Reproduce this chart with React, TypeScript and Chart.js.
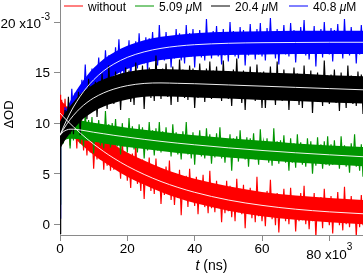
import { useEffect, useRef } from "react";
import { Chart, registerables } from "chart.js";

Chart.register(...registerables);

// Sampling times of the transient traces, in units of 10^3 ns
const traceTimes = [
  0, 0.2,
  0.5, 1, 1.5, 2, 2.5, 3, 3.5, 4, 4.5, 5,
  5.5, 6, 6.5, 7, 7.5, 8, 8.5, 9, 9.5, 10,
  10.5, 11, 11.5, 12, 12.5, 13, 13.5, 14, 14.5, 15,
  15.5, 16, 16.5, 17, 17.5, 18, 18.5, 19, 19.5, 20,
  20.5, 21, 21.5, 22, 22.5, 23, 23.5, 24, 24.5, 25,
  25.5, 26, 26.5, 27, 27.5, 28, 28.5, 29, 29.5, 30,
  30.5, 31, 31.5, 32, 32.5, 33, 33.5, 34, 34.5, 35,
  35.5, 36, 36.5, 37, 37.5, 38, 38.5, 39, 39.5, 40,
  40.5, 41, 41.5, 42, 42.5, 43, 43.5, 44, 44.5, 45,
  45.5, 46, 46.5, 47, 47.5, 48, 48.5, 49, 49.5, 50,
  50.5, 51, 51.5, 52, 52.5, 53, 53.5, 54, 54.5, 55,
  55.5, 56, 56.5, 57, 57.5, 58, 58.5, 59, 59.5, 60,
  60.5, 61, 61.5, 62, 62.5, 63, 63.5, 64, 64.5, 65,
  65.5, 66, 66.5, 67, 67.5, 68, 68.5, 69, 69.5, 70,
  70.5, 71, 71.5, 72, 72.5, 73, 73.5, 74, 74.5, 75,
  75.5, 76, 76.5, 77, 77.5, 78, 78.5, 79, 79.5, 80,
  80.5, 81, 81.5, 82, 82.5, 83, 83.5, 84, 84.5, 85,
  85.5, 86, 86.5, 87, 87.5, 88, 88.5, 89, 89.5, 90,
];

// Times of the fitted curves and of the dense noise envelopes (10^3 ns)
const fitTimes = [0, 1, 2, 3, 4, 6, 8, 10, 13, 16, 20, 25, 30, 35, 40, 50, 60, 70, 80, 90];

const legendLabels = ["without", "5.09 μM", "20.4 μM", "40.8 μM"];
const seriesColors = ["#ff0000", "#009600", "#000000", "#0000ff"];

// ΔOD traces (x10^-3)
const withoutTrace = [
  12.8, 10.5,
  12.3, 9.7, 12.4, 9.0, 11.0, 7.8, 11.5, 8.4, 10.6, 7.5,
  11.5, 8.2, 10.2, 7.3, 9.6, 6.8, 10.1, 7.1, 9.5, 5.5,
  8.7, 6.4, 9.6, 6.4, 8.5, 5.4, 8.6, 5.8, 9.1, 5.3,
  8.0, 5.4, 8.2, 5.5, 7.2, 4.5, 8.3, 5.2, 7.1, 4.3,
  6.3, 3.6, 7.0, 4.4, 8.0, 4.0, 6.0, 3.3, 6.4, 2.5,
  6.0, 4.1, 6.6, 3.3, 5.6, 3.0, 6.5, 3.5, 5.6, 2.0,
  4.9, 2.9, 5.7, 3.0, 6.3, 2.4, 4.9, 1.9, 4.6, 2.6,
  5.4, 0.9, 4.7, 2.7, 4.8, 1.7, 5.5, 2.3, 4.2, 1.8,
  4.7, 1.0, 4.3, 2.1, 4.9, 1.7, 3.6, 1.1, 5.3, 1.6,
  3.8, 1.2, 4.3, 1.8, 3.8, 0.2, 3.5, 1.1, 4.3, 1.3,
  3.8, 0.7, 3.2, 0.3, 4.5, 1.2, 3.5, 1.0, 3.9, -0.4,
  3.2, 1.2, 3.6, 0.6, 3.0, 0.2, 4.7, 0.8, 3.1, 0.3,
  2.5, -0.2, 3.3, 0.8, 4.4, 0.5, 2.6, -0.1, 3.1, -0.8,
  2.7, 1.0, 3.5, 0.3, 2.6, 0.0, 3.6, 0.6, 2.8, -0.7,
  2.2, 0.3, 3.1, 0.4, 3.8, 0.0, 2.5, -0.5, 2.2, 0.3,
  3.1, -1.3, 2.5, 0.5, 2.7, -0.4, 3.5, 0.3, 2.2, -0.1,
  2.8, -0.9, 2.5, 0.3, 3.2, -0.1, 1.9, -0.6, 3.7, 0.0,
  2.2, -0.3, 2.8, 0.3, 2.3, -1.2, 2.1, -0.3, 2.9, -0.1,
];
const c509Trace = [
  2.0, 8.0,
  9.9, 8.0, 10.6, 8.7, 10.4, 7.5, 10.2, 8.3, 10.9, 8.5,
  10.5, 8.0, 10.0, 7.7, 11.1, 8.4, 10.3, 8.2, 10.6, 7.0,
  10.0, 8.3, 10.3, 7.8, 9.8, 7.5, 11.2, 8.0, 9.9, 7.6,
  10.0, 8.0, 10.4, 7.7, 9.5, 6.9, 10.0, 7.7, 9.5, 7.1,
  10.5, 7.9, 9.7, 7.4, 9.4, 7.1, 9.9, 7.6, 9.6, 6.5,
  9.1, 7.3, 10.1, 7.5, 9.3, 6.8, 9.5, 7.3, 10.1, 7.1,
  9.2, 7.3, 9.6, 7.4, 9.0, 6.7, 9.9, 7.4, 9.1, 6.9,
  8.5, 6.4, 9.2, 7.2, 10.1, 6.9, 8.6, 6.5, 9.1, 5.9,
  8.7, 7.2, 9.3, 6.7, 8.6, 6.5, 9.5, 7.1, 8.9, 6.0,
  8.3, 6.6, 9.0, 6.8, 9.6, 6.5, 8.5, 6.1, 8.4, 6.7,
  8.9, 5.3, 8.5, 6.9, 8.7, 6.2, 9.3, 6.7, 8.3, 6.4,
  8.6, 5.7, 8.5, 6.7, 9.0, 6.4, 8.0, 5.9, 9.4, 6.5,
  8.1, 6.5, 8.5, 6.1, 8.1, 5.8, 9.5, 6.3, 8.2, 6.0,
  8.3, 6.3, 8.8, 6.1, 7.9, 5.3, 8.5, 6.1, 8.0, 5.6,
  8.9, 6.3, 8.1, 5.9, 7.8, 5.7, 8.5, 6.1, 8.2, 5.0,
  7.6, 5.8, 8.6, 6.1, 7.9, 5.5, 8.2, 5.9, 8.7, 5.8,
  7.9, 5.9, 8.3, 6.1, 7.6, 5.5, 8.7, 6.2, 7.8, 5.7,
  7.3, 5.1, 8.0, 5.9, 8.9, 5.7, 7.4, 5.3, 7.9, 4.7,
];
const c204Trace = [
  -0.9, 8.4,
  9.9, 8.2, 11.3, 8.9, 12.6, 8.9, 11.7, 8.9, 11.8, 10.0,
  13.1, 8.8, 12.8, 11.0, 13.3, 10.4, 14.4, 11.3, 13.4, 11.2,
  14.1, 10.6, 14.1, 12.0, 14.9, 11.8, 13.8, 11.4, 15.7, 12.2,
  14.4, 11.9, 15.1, 12.7, 14.7, 11.3, 14.6, 12.3, 15.5, 12.6,
  15.2, 12.1, 14.7, 11.8, 16.0, 12.9, 15.2, 12.7, 15.7, 11.4,
  15.0, 13.1, 15.5, 12.5, 15.0, 12.2, 16.7, 12.9, 15.2, 12.4,
  15.4, 13.0, 15.9, 12.6, 14.8, 11.8, 15.6, 12.7, 15.1, 12.1,
  16.3, 13.1, 15.3, 12.5, 14.9, 12.3, 15.7, 12.9, 15.4, 11.5,
  14.7, 12.5, 15.9, 12.9, 15.1, 12.1, 15.4, 12.6, 16.1, 12.4,
  15.2, 12.8, 15.6, 13.0, 14.8, 12.2, 16.2, 13.1, 15.1, 12.4,
  14.4, 11.7, 15.3, 12.7, 16.4, 12.5, 14.6, 12.0, 15.2, 11.3,
  14.8, 13.1, 15.6, 12.4, 14.7, 12.2, 15.8, 12.8, 15.0, 11.5,
  15.1, 11.5, 14.9, 12.7, 15.6, 12.4, 14.4, 11.8, 16.1, 12.5,
  14.7, 12.2, 15.3, 12.8, 14.8, 11.3, 14.6, 12.3, 15.5, 12.5,
  14.9, 11.8, 14.4, 11.5, 15.7, 12.5, 14.8, 12.3, 15.2, 11.0,
  14.6, 12.6, 15.0, 12.1, 14.5, 11.7, 16.2, 12.4, 14.7, 11.9,
  14.8, 12.4, 15.3, 12.0, 14.2, 11.2, 15.0, 12.2, 14.5, 11.5,
  15.7, 12.5, 14.7, 11.9, 14.4, 11.7, 15.1, 12.3, 14.8, 10.9,
];
const c408Trace = [
  0.6, 8.6,
  10.4, 8.6, 11.6, 9.5, 11.6, 9.5, 13.4, 10.9, 13.0, 10.9,
  13.0, 10.9, 14.3, 12.2, 15.8, 12.5, 14.6, 12.3, 15.4, 12.1,
  15.5, 14.0, 16.5, 13.7, 16.0, 13.8, 17.2, 14.6, 16.7, 13.7,
  16.5, 14.8, 17.5, 15.1, 18.3, 14.9, 17.3, 14.7, 17.2, 15.5,
  18.2, 14.2, 17.8, 16.1, 18.1, 15.4, 18.9, 16.1, 17.9, 15.9,
  18.5, 15.2, 18.4, 16.4, 19.0, 16.2, 18.0, 15.7, 19.7, 16.4,
  18.4, 16.2, 19.0, 16.8, 18.6, 15.5, 18.5, 16.4, 19.3, 16.6,
  18.9, 16.2, 18.5, 15.9, 19.7, 16.8, 18.9, 16.6, 19.3, 15.5,
  18.8, 17.0, 19.2, 16.5, 18.7, 16.2, 20.3, 16.8, 18.9, 16.4,
  19.1, 16.9, 19.6, 16.6, 18.6, 15.8, 19.3, 16.7, 18.8, 16.1,
  20.0, 17.1, 19.1, 16.6, 18.8, 16.4, 19.5, 16.9, 19.2, 15.7,
  18.7, 16.7, 19.8, 17.0, 19.0, 16.3, 19.3, 16.8, 19.9, 16.6,
  18.6, 16.2, 19.4, 17.1, 20.4, 16.9, 18.8, 16.4, 19.3, 15.8,
  19.0, 17.4, 19.7, 16.8, 18.9, 16.6, 19.9, 17.2, 19.2, 16.0,
  18.7, 16.9, 19.5, 17.1, 20.2, 16.7, 19.0, 16.3, 18.8, 17.0,
  19.6, 15.6, 19.1, 17.3, 19.3, 16.5, 20.0, 17.1, 18.9, 16.8,
  19.4, 16.1, 19.2, 17.2, 19.8, 16.9, 18.7, 16.4, 20.3, 17.0,
  19.0, 16.7, 19.5, 17.3, 19.1, 15.9, 18.9, 16.8, 19.7, 17.0,
];

// Upper / lower edges of the dense part of each noisy trace (x10^-3)
const withoutHigh = [12.35, 12.0, 11.65, 11.3, 11.0, 10.4, 9.8, 9.25, 8.55, 7.9, 7.1, 6.3, 5.6, 5.0, 4.5, 3.75, 3.2, 2.85, 2.6, 2.4];
const withoutLow = [9.95, 9.6, 9.25, 8.9, 8.6, 8.0, 7.4, 6.85, 6.15, 5.5, 4.7, 3.9, 3.2, 2.6, 2.1, 1.35, 0.8, 0.45, 0.2, 0.0];
const c509High = [9.75, 10.1, 10.3, 10.35, 10.35, 10.3, 10.15, 10.05, 9.9, 9.75, 9.55, 9.35, 9.15, 8.95, 8.8, 8.5, 8.25, 8.0, 7.8, 7.65];
const c509Low = [7.85, 8.2, 8.4, 8.45, 8.45, 8.4, 8.25, 8.15, 8.0, 7.85, 7.65, 7.45, 7.25, 7.05, 6.9, 6.6, 6.35, 6.1, 5.9, 5.75];
const c204High = [10.15, 10.75, 11.25, 11.7, 12.1, 12.85, 13.4, 13.85, 14.35, 14.7, 15.05, 15.3, 15.35, 15.3, 15.25, 15.15, 15.0, 14.9, 14.75, 14.65];
const c204Low = [7.45, 8.05, 8.55, 9.0, 9.4, 10.15, 10.7, 11.15, 11.65, 12.0, 12.35, 12.6, 12.65, 12.6, 12.55, 12.45, 12.3, 12.2, 12.05, 11.95];
const c408High = [9.95, 10.75, 11.5, 12.15, 12.75, 13.8, 14.7, 15.45, 16.35, 17.0, 17.65, 18.2, 18.55, 18.75, 18.9, 19.05, 19.1, 19.15, 19.15, 19.15];
const c408Low = [7.65, 8.45, 9.2, 9.85, 10.45, 11.5, 12.4, 13.15, 14.05, 14.7, 15.35, 15.9, 16.25, 16.45, 16.6, 16.75, 16.8, 16.85, 16.85, 16.85];

// Fitted curves (x10^-3)
const withoutFit = [11.0, 10.64, 10.29, 9.96, 9.64, 9.03, 8.45, 7.92, 7.19, 6.53, 5.75, 4.93, 4.23, 3.65, 3.16, 2.4, 1.87, 1.49, 1.23, 1.04];
const c509Fit = [8.8, 9.15, 9.33, 9.4, 9.4, 9.33, 9.22, 9.1, 8.95, 8.8, 8.62, 8.4, 8.2, 8.02, 7.86, 7.56, 7.3, 7.07, 6.87, 6.68];
const c204Fit = [8.8, 9.38, 9.89, 10.36, 10.77, 11.48, 12.04, 12.49, 13.0, 13.37, 13.71, 13.93, 13.98, 13.94, 13.9, 13.78, 13.66, 13.54, 13.42, 13.3];
const c408Fit = [8.8, 9.6, 10.33, 11.0, 11.6, 12.66, 13.55, 14.29, 15.18, 15.85, 16.51, 17.05, 17.4, 17.62, 17.76, 17.9, 17.96, 17.98, 18.0, 18.0];

const xTickValues = [0, 20, 40, 60, 80];
const yTickValues = [0, 5, 10, 15, 20];
const xExponent = "3";
const yExponent = "-3";

const FONT = '"Liberation Sans", Arial, Helvetica, sans-serif';
const AXIS_GREY = "#8a8a8a";

const pts = (xs: number[], ys: number[]) => xs.map((x, i) => ({ x, y: ys[i] }));

// Draws tick labels, axis titles and the legend row
const textPlugin = {
  id: "figureText",
  afterDraw(chart: any) {
    const { ctx } = chart;
    const xs = chart.scales.x;
    const ys = chart.scales.y;
    ctx.save();
    ctx.fillStyle = "#000";
    ctx.textBaseline = "alphabetic";

    // y tick labels
    ctx.textAlign = "right";
    yTickValues.forEach((v, i) => {
      const y = ys.getPixelForValue(v);
      if (i === yTickValues.length - 1) {
        ctx.font = `10px ${FONT}`;
        const sw = ctx.measureText(yExponent).width;
        ctx.fillText(yExponent, 50, y - 2);
        ctx.font = `13.5px ${FONT}`;
        ctx.fillText(`${v} x10`, 50 - sw, y + 5.5);
      } else {
        ctx.font = `13.5px ${FONT}`;
        ctx.fillText(String(v), 50, y + 4.8);
      }
    });

    // x tick labels
    xTickValues.forEach((v, i) => {
      const x = xs.getPixelForValue(v);
      if (i === xTickValues.length - 1) {
        ctx.font = `13.5px ${FONT}`;
        const main = `${v} x10`;
        const mw = ctx.measureText(main).width;
        ctx.font = `10px ${FONT}`;
        const sw = ctx.measureText(xExponent).width;
        const left = x - (mw + sw) / 2;
        ctx.textAlign = "left";
        ctx.fillText(xExponent, left + mw, 250);
        ctx.font = `13.5px ${FONT}`;
        ctx.fillText(main, left, 258.5);
      } else {
        ctx.font = `13.5px ${FONT}`;
        ctx.textAlign = "center";
        ctx.fillText(String(v), x, 253);
      }
    });

    // x axis title: italic t
    const cx = (chart.chartArea.left + chart.chartArea.right) / 2;
    ctx.font = `italic 14px ${FONT}`;
    const tw = ctx.measureText("t").width;
    ctx.font = `14px ${FONT}`;
    const rest = " (ns)";
    const rw = ctx.measureText(rest).width;
    const tx = cx - (tw + rw) / 2;
    ctx.textAlign = "left";
    ctx.font = `italic 14px ${FONT}`;
    ctx.fillText("t", tx, 269.5);
    ctx.font = `14px ${FONT}`;
    ctx.fillText(rest, tx + tw, 269.5);

    // y axis title
    ctx.save();
    ctx.translate(13, (chart.chartArea.top + chart.chartArea.bottom) / 2 - 3);
    ctx.rotate(-Math.PI / 2);
    ctx.textAlign = "center";
    ctx.font = `13px ${FONT}`;
    ctx.fillText("ΔOD", 0, 0);
    ctx.restore();

    // legend
    const lineStarts = [64, 135, 211, 289];
    ctx.textAlign = "left";
    legendLabels.forEach((label, i) => {
      const x0 = lineStarts[i];
      ctx.strokeStyle = seriesColors[i];
      ctx.lineWidth = 1;
      ctx.beginPath();
      ctx.moveTo(x0, 6);
      ctx.lineTo(x0 + 19, 6);
      ctx.stroke();
      let tx2 = x0 + 24;
      const parts = label.split("μ");
      parts.forEach((p, k) => {
        if (k > 0) {
          ctx.font = `italic 12px ${FONT}`;
          ctx.fillText("μ", tx2, 10.5);
          tx2 += ctx.measureText("μ").width;
        }
        ctx.font = `12px ${FONT}`;
        ctx.fillText(p, tx2, 10.5);
        tx2 += ctx.measureText(p).width;
      });
    });
    ctx.restore();
  },
};

export default function App() {
  const canvasRef = useRef<HTMLCanvasElement | null>(null);

  useEffect(() => {
    document.body.style.margin = "0";
    const canvas = canvasRef.current;
    if (!canvas) return;

    const traces = [withoutTrace, c509Trace, c204Trace, c408Trace];
    const highs = [withoutHigh, c509High, c204High, c408High];
    const lows = [withoutLow, c509Low, c204Low, c408Low];
    const fits = [withoutFit, c509Fit, c204Fit, c408Fit];
    // stacking: 20.4 µM trace on top, then 40.8, 5.09, without
    const stackRank = [4, 3, 1, 2];

    const datasets: any[] = [];
    fits.forEach((f, i) => {
      datasets.push({
        label: `${legendLabels[i]} fit`,
        data: pts(fitTimes, f),
        borderColor: "rgba(255,255,255,0.92)",
        borderWidth: 1,
        pointRadius: 0,
        cubicInterpolationMode: "monotone",
        fill: false,
        order: 0,
      });
    });
    traces.forEach((tr, i) => {
      const rank = stackRank[i];
      datasets.push({
        label: legendLabels[i],
        data: pts(traceTimes, tr),
        borderColor: seriesColors[i],
        borderWidth: 1.15,
        pointRadius: 0,
        tension: 0,
        fill: false,
        order: rank,
      });
      datasets.push({
        label: `${legendLabels[i]} high`,
        data: pts(fitTimes, highs[i]),
        borderWidth: 0,
        borderColor: "rgba(0,0,0,0)",
        backgroundColor: seriesColors[i],
        pointRadius: 0,
        cubicInterpolationMode: "monotone",
        fill: "+1",
        order: rank + 0.5,
      });
      datasets.push({
        label: `${legendLabels[i]} low`,
        data: pts(fitTimes, lows[i]),
        borderWidth: 0,
        borderColor: "rgba(0,0,0,0)",
        pointRadius: 0,
        cubicInterpolationMode: "monotone",
        fill: false,
        order: rank + 0.5,
      });
    });

    const axisCommon = {
      ticks: { display: false },
      grid: {
        drawOnChartArea: false,
        drawTicks: true,
        tickLength: 6,
        color: AXIS_GREY,
        lineWidth: 1,
      },
      border: { display: true, color: AXIS_GREY, width: 1 },
    };

    const chart = new Chart(canvas, {
      type: "line",
      data: { datasets },
      options: {
        animation: false,
        responsive: false,
        maintainAspectRatio: false,
        events: [],
        layout: { padding: 0 },
        plugins: {
          legend: { display: false },
          tooltip: { enabled: false },
        },
        scales: {
          x: {
            type: "linear",
            min: 0,
            max: 90,
            ...axisCommon,
            afterBuildTicks: (s: any) => {
              s.ticks = xTickValues.map((value) => ({ value }));
            },
            afterFit: (s: any) => {
              s.height = 38;
            },
          },
          y: {
            type: "linear",
            min: -1.06,
            max: 22.18,
            ...axisCommon,
            afterBuildTicks: (s: any) => {
              s.ticks = yTickValues.map((value) => ({ value }));
            },
            afterFit: (s: any) => {
              s.width = 60;
            },
          },
        },
      } as any,
      plugins: [textPlugin],
    });

    return () => chart.destroy();
  }, []);

  return (
    <div style={{ width: 363, height: 273 }}>
      <canvas ref={canvasRef} width={363} height={273} style={{ display: "block" }} />
    </div>
  );
}
